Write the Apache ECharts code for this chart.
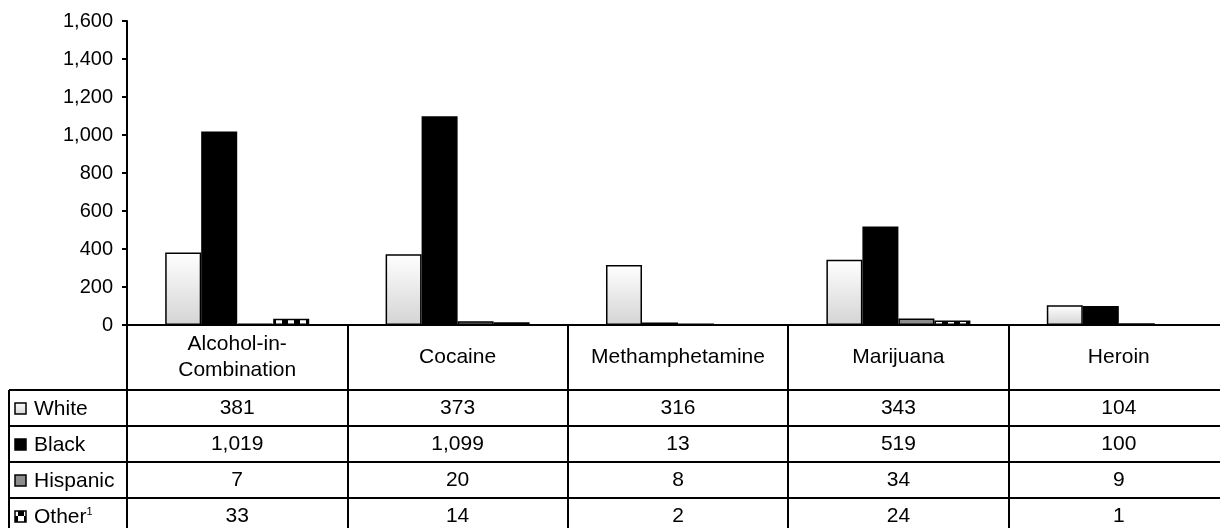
<!DOCTYPE html>
<html>
<head>
<meta charset="utf-8">
<script src="https://cdn.jsdelivr.net/npm/echarts@6/dist/echarts.min.js"></script>
<style>
html,body{margin:0;padding:0;background:#fff;overflow:hidden;width:1220px;height:528px;}
#chart{width:1232px;height:528px;}
</style>
</head>
<body>
<div id="chart"></div>
<script>
// ---- data ----
const categories = ['Alcohol-in-\nCombination', 'Cocaine', 'Methamphetamine', 'Marijuana', 'Heroin'];
const seriesNames = ['White', 'Black', 'Hispanic', 'Other'];
const white = [381, 373, 316, 343, 104];
const black = [1019, 1099, 13, 519, 100];
const hispanic = [7, 20, 8, 34, 9];
const other = [33, 14, 2, 24, 1];
const yTicks = [0, 200, 400, 600, 800, 1000, 1200, 1400, 1600];

// ---- styles ----
const FONT = '"Liberation Sans", Arial, sans-serif';
const whiteFill = new echarts.graphic.LinearGradient(0, 0, 0, 1, [
  { offset: 0, color: '#ffffff' }, { offset: 1, color: '#d4d4d4' }
]);
const hispFill = '#8c8c8c';
function makePattern() {
  const c = document.createElement('canvas');
  c.width = 12; c.height = 12;
  const g = c.getContext('2d');
  g.fillStyle = '#fff'; g.fillRect(0, 0, 12, 12);
  g.fillStyle = '#000';
  g.fillRect(0, 0, 6, 6); g.fillRect(6, 6, 6, 6);
  return c;
}
const otherFill = { image: makePattern(), repeat: 'repeat' };
const fills = [whiteFill, '#000000', hispFill, otherFill];
const allValues = [white, black, hispanic, other];

const chart = echarts.init(document.getElementById('chart'), null, { renderer: 'canvas' });

const HEADER_H = 65, ROW_H = 36, LEGEND_LEFT = 9, TABLE_FS = 21;

function renderTable(params, api) {
  const i = api.value(0);
  const p = api.coord([i, 0]);
  const w = api.size([1, 0])[0];
  const cx = p[0], y0 = p[1];
  const left = cx - w / 2, right = cx + w / 2;
  const children = [];
  children.push({
    type: 'text',
    style: { text: categories[i], x: cx, y: y0 + HEADER_H / 2, align: 'center', verticalAlign: 'middle',
      fontSize: TABLE_FS, fontFamily: FONT, lineHeight: 26, fill: '#000' }
  });
  for (let r = 0; r < 4; r++) {
    const top = y0 + HEADER_H + r * ROW_H;
    children.push({ type: 'line', shape: { x1: left, y1: top, x2: right, y2: top }, style: { stroke: '#000', lineWidth: 2 } });
    children.push({
      type: 'text',
      style: { text: allValues[r][i].toLocaleString('en-US'), x: cx, y: top + ROW_H / 2, align: 'center', verticalAlign: 'middle',
        fontSize: TABLE_FS, fontFamily: FONT, fill: '#000' }
    });
  }
  if (i === 0) {
    const lt = y0 + HEADER_H;
    children.push({ type: 'line', shape: { x1: LEGEND_LEFT, y1: lt, x2: LEGEND_LEFT, y2: lt + 4 * ROW_H + 10 }, style: { stroke: '#000', lineWidth: 2 } });
    for (let r = 0; r < 4; r++) {
      const top = lt + r * ROW_H;
      children.push({ type: 'line', shape: { x1: LEGEND_LEFT, y1: top, x2: left, y2: top }, style: { stroke: '#000', lineWidth: 2 } });
      children.push({ type: 'rect', shape: { x: 15, y: top + ROW_H / 2 - 5, width: 11, height: 11 },
        style: { fill: fills[r], stroke: '#000', lineWidth: 1.5 } });
      const isOther = r === 3;
      children.push({
        type: 'text',
        style: {
          text: isOther ? 'Other{sup|1}' : seriesNames[r], x: 34, y: top + ROW_H / 2 + 1, align: 'left', verticalAlign: 'middle',
          fontSize: TABLE_FS, fontFamily: FONT, fill: '#000',
          rich: { sup: { fontSize: 11, fontFamily: FONT, verticalAlign: 'top', lineHeight: 14, padding: [0, 0, 10, 0], fill: '#000' } }
        }
      });
    }
  }
  return { type: 'group', children };
}

function barSeries(name, data, fill) {
  return {
    name, type: 'bar', data, barWidth: 36, barGap: '0%',
    itemStyle: { color: fill, borderColor: '#000', borderWidth: 1.5 },
    silent: true
  };
}

chart.setOption({
  animation: false,
  backgroundColor: '#fff',
  grid: { left: 127, top: 21, width: 1102, height: 304, containLabel: false },
  xAxis: {
    type: 'category', data: categories, boundaryGap: true,
    axisLine: { lineStyle: { color: '#000', width: 2 } },
    axisTick: { show: true, length: 215, lineStyle: { color: '#000', width: 2 } },
    axisLabel: { show: false }
  },
  yAxis: {
    type: 'value', min: yTicks[0], max: yTicks[yTicks.length - 1], interval: 200,
    axisLine: { show: true, lineStyle: { color: '#000', width: 2 } },
    axisTick: { show: true, length: 5, lineStyle: { color: '#000', width: 2 } },
    splitLine: { show: false },
    axisLabel: { color: '#000', fontSize: 20, fontFamily: FONT, margin: 14,
      formatter: v => v.toLocaleString('en-US') }
  },
  series: [
    barSeries('White', white, whiteFill),
    barSeries('Black', black, '#000'),
    barSeries('Hispanic', hispanic, hispFill),
    barSeries('Other', other, otherFill),
    {
      type: 'custom', renderItem: renderTable, clip: false, silent: true, z: 10,
      data: categories.map((c, i) => [i, 0]), encode: { x: 0, y: 1 }
    }
  ]
});
</script>
</body>
</html>
